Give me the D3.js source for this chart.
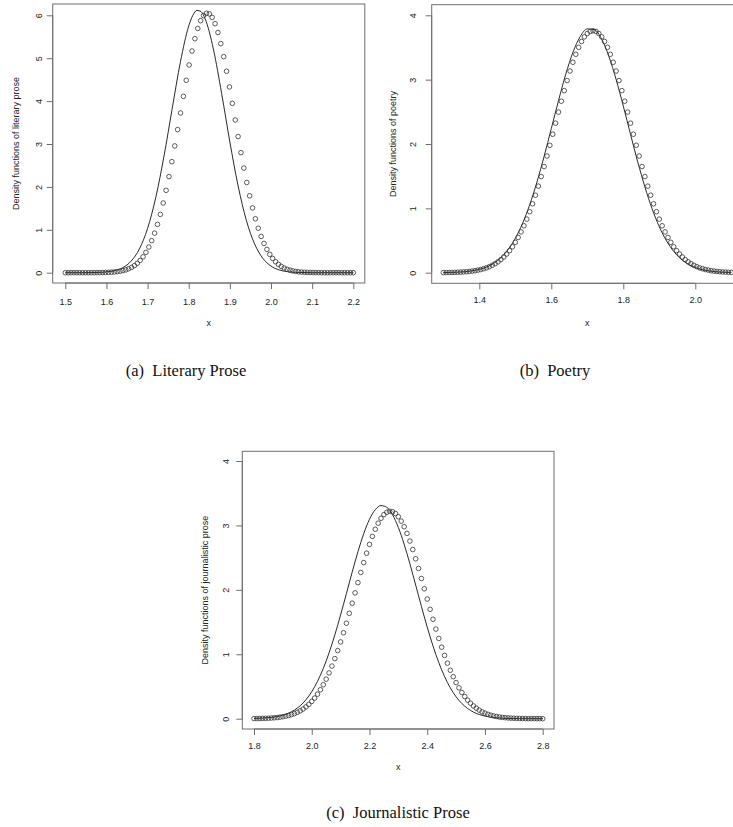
<!DOCTYPE html>
<html>
<head>
<meta charset="utf-8">
<script src="https://cdn.jsdelivr.net/npm/d3@7"></script>
<style>
  body { margin: 0; background: #fff; }
  svg { display: block; }
</style>
</head>
<body>
<div id="chart"></div>
<script>
// ---- data ----
// (a) literary prose: 101 points between 1.5 and 2.2
var litDotRange = [1.5, 2.2];
var litDots = [0,0,0,0,0,0,0,0,0,0.001,
  0.001,0.002,0.002,0.004,0.006,0.008,0.012,0.017,0.025,0.035,
  0.049,0.067,0.092,0.124,0.166,0.219,0.287,0.370,0.473,0.599,
  0.747,0.922,1.126,1.359,1.625,1.920,2.241,2.588,2.955,3.336,
  3.723,4.110,4.486,4.842,5.168,5.455,5.693,5.874,5.994,6.047,
  6.033,5.951,5.805,5.599,5.340,5.035,4.696,4.330,3.948,3.560,
  3.174,2.799,2.439,2.103,1.793,1.510,1.257,1.037,0.845,0.681,
  0.543,0.428,0.333,0.256,0.195,0.147,0.109,0.080,0.059,0.042,
  0.030,0.021,0.015,0.010,0.007,0.005,0.003,0.002,0.001,0.001,
  0,0,0,0,0,0,0,0,0,0,0];
var litCurveX = [1.50,1.54,1.58,1.60,1.62,1.64,1.66,1.68,1.70,1.72,1.74,1.76,1.78,1.80,1.81,1.82,
  1.83,1.84,1.86,1.88,1.90,1.92,1.94,1.96,1.98,2.00,2.02,2.04,2.06,2.10,2.15,2.20];
var litCurveY = [0,0,0.006,0.018,0.048,0.119,0.269,0.553,1.032,1.757,2.723,3.837,4.924,5.751,5.999,6.114,
  6.085,5.916,5.210,4.176,3.047,2.024,1.223,0.673,0.337,0.154,0.064,0.024,0.008,0.001,0,0];
var litXTicks = [1.5,1.6,1.7,1.8,1.9,2.0,2.1,2.2];
var litYTicks = [0,1,2,3,4,5,6];

// (b) poetry: 101 points between 1.3 and 2.1
var poeDotRange = [1.3, 2.1];
var poeDots = [0.002,0.002,0.003,0.004,0.005,0.007,0.009,0.012,0.015,0.019,
  0.025,0.031,0.040,0.049,0.062,0.076,0.094,0.115,0.140,0.169,
  0.204,0.244,0.290,0.343,0.403,0.472,0.548,0.634,0.729,0.833,
  0.948,1.071,1.204,1.345,1.494,1.650,1.813,1.980,2.152,2.324,
  2.496,2.665,2.829,2.986,3.134,3.270,3.394,3.502,3.593,3.665,
  3.717,3.749,3.760,3.749,3.717,3.665,3.593,3.502,3.394,3.270,
  3.134,2.986,2.829,2.665,2.496,2.324,2.152,1.980,1.813,1.650,
  1.494,1.345,1.204,1.071,0.948,0.833,0.729,0.634,0.548,0.472,
  0.403,0.343,0.290,0.244,0.204,0.169,0.140,0.115,0.094,0.076,
  0.062,0.049,0.040,0.031,0.025,0.019,0.015,0.012,0.009,0.007,0.005];
var poeCurveX = [1.30,1.34,1.38,1.42,1.44,1.46,1.48,1.50,1.52,1.54,1.56,1.58,1.60,1.62,1.64,1.66,1.68,1.70,
  1.72,1.74,1.76,1.78,1.80,1.82,1.84,1.86,1.88,1.90,1.92,1.94,1.96,1.98,2.00,2.04,2.08,2.10];
var poeCurveY = [0.002,0.008,0.029,0.088,0.146,0.234,0.360,0.534,0.765,1.056,1.407,1.808,2.239,2.674,3.081,3.423,3.667,3.789,
  3.775,3.628,3.361,3.004,2.589,2.152,1.724,1.333,0.993,0.714,0.495,0.331,0.213,0.133,0.080,0.026,0.007,0.004];
var poeXTicks = [1.4,1.6,1.8,2.0];
var poeYTicks = [0,1,2,3,4];

// (c) journalistic prose: 101 points between 1.8 and 2.8
var jouDotRange = [1.8, 2.8];
var jouDots = [0.002,0.002,0.003,0.005,0.006,0.008,0.011,0.014,0.018,0.024,
  0.031,0.039,0.050,0.063,0.079,0.099,0.122,0.150,0.183,0.222,
  0.268,0.320,0.381,0.449,0.527,0.614,0.711,0.817,0.933,1.057,
  1.192,1.334,1.482,1.636,1.793,1.953,2.112,2.270,2.423,2.569,
  2.706,2.830,2.940,3.035,3.111,3.168,3.204,3.220,3.213,3.185,
  3.136,3.067,2.980,2.876,2.757,2.625,2.482,2.332,2.176,2.016,
  1.857,1.698,1.543,1.391,1.246,1.110,0.982,0.862,0.752,0.652,
  0.561,0.479,0.407,0.344,0.288,0.240,0.198,0.163,0.133,0.107,
  0.087,0.069,0.055,0.043,0.034,0.026,0.020,0.016,0.012,0.009,
  0.007,0.005,0.004,0.003,0.002,0.001,0.001,0.001,0.001,0.001,0];
var jouCurveX = [1.80,1.86,1.90,1.94,1.96,1.98,2.00,2.02,2.04,2.06,2.08,2.10,2.12,2.14,2.16,2.18,2.20,2.22,2.24,
  2.26,2.28,2.30,2.32,2.34,2.36,2.38,2.40,2.42,2.44,2.46,2.48,2.50,2.52,2.56,2.60,2.66,2.72,2.80];
var jouCurveY = [0.004,0.020,0.054,0.134,0.201,0.294,0.419,0.580,0.780,1.022,1.301,1.611,1.941,2.274,2.591,2.871,3.095,3.244,3.308,
  3.281,3.164,2.968,2.709,2.404,2.075,1.741,1.422,1.129,0.872,0.655,0.478,0.340,0.235,0.103,0.041,0.008,0.001,0];
var jouXTicks = [1.8,2.0,2.2,2.4,2.6,2.8];
var jouYTicks = [0,1,2,3,4];

var captions = ["(a)  Literary Prose", "(b)  Poetry", "(c)  Journalistic Prose"];
var yTitles = ["Density functions of literary prose", "Density functions of poetry", "Density functions of journalistic prose"];

// ---- drawing ----
var svg = d3.select("#chart").append("svg")
  .attr("width", 733)
  .attr("height", 827);

var sans = "Liberation Sans, Arial, Helvetica, sans-serif";
var serif = "Liberation Serif, Times New Roman, serif";

function drawPanel(p) {
  var x = d3.scaleLinear().domain(p.xTickSpan).range(p.xPx);
  var y = d3.scaleLinear().domain(p.yTickSpan).range(p.yPx);
  var g = svg.append("g");

  // box
  g.append("rect")
    .attr("x", p.box[0]).attr("y", p.box[1])
    .attr("width", p.box[2] - p.box[0]).attr("height", p.box[3] - p.box[1])
    .attr("fill", "none").attr("stroke", "#6e6e6e").attr("stroke-width", 1);

  // x axis
  var xa = g.append("g").attr("transform", "translate(0," + p.box[3] + ")")
    .call(d3.axisBottom(x).tickValues(p.xTicks).tickSize(6).tickPadding(6)
      .tickFormat(d3.format(".1f")));
  xa.select(".domain").attr("d", "M" + x(p.xTicks[0]) + ",0H" + x(p.xTicks[p.xTicks.length - 1]))
    .attr("stroke", "#6e6e6e");
  xa.selectAll(".tick line").attr("stroke", "#6e6e6e");
  xa.selectAll(".tick text").attr("font-family", sans).attr("font-size", 9).attr("fill", "#222")
    .attr("y", p.xLabY - p.box[3]).attr("dy", "0.35em");

  // y axis, labels turned like R's default
  var ya = g.append("g").attr("transform", "translate(" + p.box[0] + ",0)")
    .call(d3.axisLeft(y).tickValues(p.yTicks).tickSize(6).tickFormat(d3.format("d")));
  ya.select(".domain").attr("d", "M0," + y(p.yTicks[0]) + "V" + y(p.yTicks[p.yTicks.length - 1]))
    .attr("stroke", "#6e6e6e");
  ya.selectAll(".tick line").attr("stroke", "#6e6e6e");
  ya.selectAll(".tick text")
    .attr("font-family", sans).attr("font-size", 9).attr("fill", "#222")
    .attr("x", 0).attr("dy", null)
    .attr("text-anchor", "middle").attr("dominant-baseline", "central")
    .attr("transform", "translate(" + (p.yLabX - p.box[0]) + ",0) rotate(-90)");

  // axis titles
  g.append("text").attr("x", (p.box[0] + p.box[2]) / 2).attr("y", p.xTitleY)
    .attr("text-anchor", "middle").attr("dominant-baseline", "central")
    .attr("font-family", sans).attr("font-size", 9).attr("fill", "#222").text("x");
  var ym = (p.box[1] + p.box[3]) / 2;
  g.append("text")
    .attr("transform", "translate(" + p.yTitleX + "," + ym + ") rotate(-90)")
    .attr("text-anchor", "middle").attr("dominant-baseline", "central")
    .attr("font-family", sans).attr("font-size", 9).attr("fill", "#222").text(p.yTitle);

  // fitted curve
  var line = d3.line().x(function (d) { return x(d[0]); }).y(function (d) { return y(d[1]); })
    .curve(d3.curveMonotoneX);
  g.append("path").datum(d3.zip(p.curveX, p.curveY))
    .attr("d", line).attr("fill", "none").attr("stroke", "#111").attr("stroke-width", 0.9);

  // empirical points
  var step = (p.dotRange[1] - p.dotRange[0]) / (p.dots.length - 1);
  g.selectAll("circle.pt").data(p.dots).enter().append("circle")
    .attr("class", "pt")
    .attr("cx", function (d, i) { return x(p.dotRange[0] + i * step); })
    .attr("cy", function (d) { return y(d); })
    .attr("r", 2.3)
    .attr("fill", "none").attr("stroke", "#333").attr("stroke-width", 0.8);

  // caption
  svg.append("text").attr("x", p.capX).attr("y", p.capY)
    .attr("text-anchor", "middle").attr("dominant-baseline", "central")
    .attr("font-family", serif).attr("font-size", 16.5).attr("fill", "#111")
    .style("white-space", "pre").text(p.caption);
}

drawPanel({
  xTickSpan: [1.5, 2.2], xPx: [65.3, 353.3], yTickSpan: [0, 6], yPx: [272.7, 15.3],
  box: [52.7, 4, 364.8, 283], xTicks: litXTicks, yTicks: litYTicks,
  xLabY: 301.7, yLabX: 39.3, xTitleY: 322.7, yTitleX: 15.7, yTitle: yTitles[0],
  curveX: litCurveX, curveY: litCurveY, dots: litDots, dotRange: litDotRange,
  caption: captions[0], capX: 186, capY: 370
});
drawPanel({
  xTickSpan: [1.4, 2.0], xPx: [479.3, 695.3], yTickSpan: [0, 4], yPx: [272.7, 15.3],
  box: [431.7, 4.7, 742.8, 283.3], xTicks: poeXTicks, yTicks: poeYTicks,
  xLabY: 300, yLabX: 413.3, xTitleY: 322.7, yTitleX: 393.3, yTitle: yTitles[1],
  curveX: poeCurveX, curveY: poeCurveY, dots: poeDots, dotRange: poeDotRange,
  caption: captions[1], capX: 555, capY: 370
});
drawPanel({
  xTickSpan: [1.8, 2.8], xPx: [254, 542.7], yTickSpan: [0, 4], yPx: [718.7, 461],
  box: [242.3, 451.3, 554, 729], xTicks: jouXTicks, yTicks: jouYTicks,
  xLabY: 746, yLabX: 226, xTitleY: 767, yTitleX: 205, yTitle: yTitles[2],
  curveX: jouCurveX, curveY: jouCurveY, dots: jouDots, dotRange: jouDotRange,
  caption: captions[2], capX: 398, capY: 812
});
</script>
</body>
</html>
